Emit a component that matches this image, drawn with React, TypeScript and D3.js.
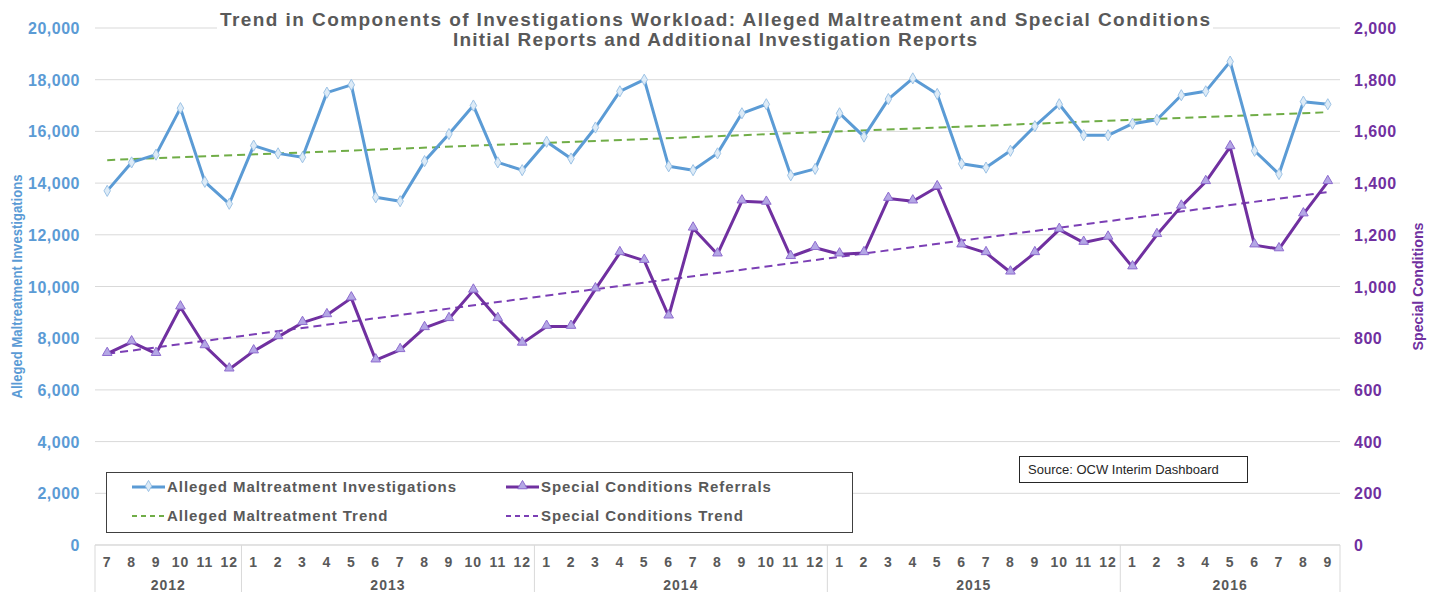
import React, { useEffect, useRef } from "react";
import * as d3 from "d3";

// month ticks (Jul 2012 .. Sep 2016)
const monthLabels = [
  "7", "8", "9", "10", "11", "12",
  "1", "2", "3", "4", "5", "6", "7", "8", "9", "10", "11", "12",
  "1", "2", "3", "4", "5", "6", "7", "8", "9", "10", "11", "12",
  "1", "2", "3", "4", "5", "6", "7", "8", "9", "10", "11", "12",
  "1", "2", "3", "4", "5", "6", "7", "8", "9",
];
const yearLabels = ["2012", "2013", "2014", "2015", "2016"];
const monthsPerYear = [6, 12, 12, 12, 9];

const alleged = [
  13700, 14800, 15100, 16900, 14050, 13200, 15450, 15150, 15000, 17500, 17800,
  13450, 13300, 14850, 15900, 17000, 14800, 14500, 15600, 14950, 16150, 17550,
  18000, 14650, 14500, 15150, 16700, 17050, 14300, 14550, 16700, 15800, 17250,
  18050, 17450, 14750, 14600, 15250, 16200, 17050, 15850, 15850, 16300, 16450,
  17400, 17550, 18700, 15250, 14350, 17150, 17050,
];
const special = [
  740, 785, 740, 920, 770, 680, 750, 805, 860, 890, 955, 715, 755, 840, 875, 985,
  875, 780, 845, 845, 990, 1130, 1100, 885, 1225, 1125, 1330, 1325, 1115, 1150,
  1125, 1130, 1340, 1330, 1385, 1160, 1130, 1055, 1130, 1220, 1170, 1190, 1075,
  1200, 1310, 1405, 1540, 1160, 1145, 1280, 1405,
];

const leftTicks = d3.range(0, 20001, 2000);
const rightTicks = d3.range(0, 2001, 200);

const BLUE = "#5B9BD5";
const PURPLE = "#7030A0";
const GREEN = "#70AD47";
const PURPLE_TREND = "#7B3FB5";
const TEXT = "#595959";
const GRID = "#D9D9D9";
const FONT = "'Liberation Sans', Arial, sans-serif";

// least squares fit over month index, like Excel's linear trendline
function linearFit(values: number[]) {
  const n = values.length;
  const mx = (n - 1) / 2;
  const my = d3.mean(values) as number;
  let num = 0;
  let den = 0;
  values.forEach((v, i) => {
    num += (i - mx) * (v - my);
    den += (i - mx) * (i - mx);
  });
  const slope = num / den;
  return (i: number) => my + slope * (i - mx);
}

const W = 1439;
const H = 592;
const margin = { left: 95, right: 99, top: 28, bottom: 47 };

const App = () => {
  const svgRef = useRef<SVGSVGElement>(null);

  useEffect(() => {
    const svg = d3.select(svgRef.current);
    svg.selectAll("*").remove();

    const x0 = margin.left;
    const x1 = W - margin.right;
    const y0 = H - margin.bottom;
    const y1 = margin.top;

    const idx = d3.range(monthLabels.length);
    const x = d3.scaleBand<number>().domain(idx).range([x0, x1]).padding(0);
    const cx = (i: number) => (x(i) as number) + x.bandwidth() / 2;
    const yL = d3.scaleLinear().domain([0, 20000]).range([y0, y1]);
    const yR = d3.scaleLinear().domain([0, 2000]).range([y0, y1]);
    const fmt = d3.format(",");

    // gridlines
    svg.append("g")
      .selectAll("line")
      .data(leftTicks)
      .join("line")
      .attr("x1", x0)
      .attr("x2", x1)
      .attr("y1", (d) => yL(d))
      .attr("y2", (d) => yL(d))
      .attr("stroke", GRID)
      .attr("stroke-width", 1);

    // left ticks
    svg.append("g")
      .selectAll("text")
      .data(leftTicks)
      .join("text")
      .attr("x", 80)
      .attr("y", (d) => yL(d) + 6)
      .attr("text-anchor", "end")
      .attr("fill", BLUE)
      .attr("font-size", 16)
      .attr("letter-spacing", 0.5)
      .attr("font-weight", "bold")
      .attr("font-family", FONT)
      .text((d) => fmt(d));

    // right ticks
    svg.append("g")
      .selectAll("text")
      .data(rightTicks)
      .join("text")
      .attr("x", 1354)
      .attr("y", (d) => yR(d) + 6)
      .attr("fill", PURPLE)
      .attr("font-size", 16)
      .attr("letter-spacing", 0.5)
      .attr("font-weight", "bold")
      .attr("font-family", FONT)
      .text((d) => fmt(d));

    // axis titles
    svg.append("text")
      .attr("transform", `translate(22, ${(y0 + y1) / 2}) rotate(-90)`)
      .attr("text-anchor", "middle")
      .attr("fill", BLUE)
      .attr("font-size", 15)
      .attr("font-weight", "bold")
      .attr("font-family", FONT)
      .attr("textLength", 224)
      .attr("lengthAdjust", "spacingAndGlyphs")
      .text("Alleged Maltreatment Investigations");
    svg.append("text")
      .attr("transform", `translate(1423, ${(y0 + y1) / 2}) rotate(-90)`)
      .attr("text-anchor", "middle")
      .attr("fill", PURPLE)
      .attr("font-size", 15)
      .attr("font-weight", "bold")
      .attr("font-family", FONT)
      .attr("textLength", 128)
      .attr("lengthAdjust", "spacingAndGlyphs")
      .text("Special Conditions");

    // category axis frame
    const ax = svg.append("g");
    ax.append("line")
      .attr("x1", x0).attr("x2", x1).attr("y1", y0).attr("y2", y0)
      .attr("stroke", GRID);
    const starts = d3.cumsum([0, ...monthsPerYear]);
    ax.selectAll(".sep")
      .data(Array.from(starts))
      .join("line")
      .attr("x1", (d) => (d < idx.length ? (x(d) as number) : x1))
      .attr("x2", (d) => (d < idx.length ? (x(d) as number) : x1))
      .attr("y1", y0)
      .attr("y2", H)
      .attr("stroke", GRID);
    ax.selectAll(".month")
      .data(monthLabels)
      .join("text")
      .attr("x", (_, i) => cx(i))
      .attr("y", 567)
      .attr("text-anchor", "middle")
      .attr("fill", TEXT)
      .attr("font-size", 14)
      .attr("letter-spacing", 1)
      .attr("font-weight", "bold")
      .attr("font-family", FONT)
      .text((d) => d);
    ax.selectAll(".year")
      .data(yearLabels)
      .join("text")
      .attr("x", (_, i) => {
        const a = x(starts[i]) as number;
        const b = starts[i + 1] < idx.length ? (x(starts[i + 1]) as number) : x1;
        return (a + b) / 2;
      })
      .attr("y", 590)
      .attr("text-anchor", "middle")
      .attr("fill", TEXT)
      .attr("font-size", 14)
      .attr("letter-spacing", 1)
      .attr("font-weight", "bold")
      .attr("font-family", FONT)
      .text((d) => d);

    // trend lines
    const fitA = linearFit(alleged);
    const fitS = linearFit(special);
    const trend = (fit: (i: number) => number, y: d3.ScaleLinear<number, number>) =>
      d3.line<number>().x((i) => cx(i)).y((i) => y(fit(i)))([0, idx.length - 1]);
    svg.append("path")
      .attr("d", trend(fitA, yL))
      .attr("fill", "none")
      .attr("stroke", GREEN)
      .attr("stroke-width", 2)
      .attr("stroke-dasharray", "8,5");
    svg.append("path")
      .attr("d", trend(fitS, yR))
      .attr("fill", "none")
      .attr("stroke", PURPLE_TREND)
      .attr("stroke-width", 2)
      .attr("stroke-dasharray", "8,5");

    // data lines
    const lineA = d3.line<number>().x((_, i) => cx(i)).y((d) => yL(d));
    const lineS = d3.line<number>().x((_, i) => cx(i)).y((d) => yR(d));
    svg.append("path")
      .attr("d", lineA(alleged))
      .attr("fill", "none")
      .attr("stroke", BLUE)
      .attr("stroke-width", 3)
      .attr("stroke-linejoin", "round");
    svg.append("path")
      .attr("d", lineS(special))
      .attr("fill", "none")
      .attr("stroke", PURPLE)
      .attr("stroke-width", 3)
      .attr("stroke-linejoin", "round");

    const diamond = d3.symbol(d3.symbolDiamond, 36)();
    const triangle = d3.symbol(d3.symbolTriangle, 40)();
    svg.append("g")
      .selectAll("path")
      .data(alleged)
      .join("path")
      .attr("d", diamond)
      .attr("transform", (d, i) => `translate(${cx(i)},${yL(d)})`)
      .attr("fill", "#DDEBF7")
      .attr("stroke", "#9DC3E6")
      .attr("stroke-width", 1);
    svg.append("g")
      .selectAll("path")
      .data(special)
      .join("path")
      .attr("d", triangle)
      .attr("transform", (d, i) => `translate(${cx(i)},${yR(d) - 1})`)
      .attr("fill", "#B4A7E5")
      .attr("stroke", "#8E6CCF")
      .attr("stroke-width", 1);

    // title
    svg.append("rect")
      .attr("x", 217).attr("y", 0).attr("width", 996).attr("height", 52)
      .attr("fill", "white");
    const title = svg.append("text")
      .attr("text-anchor", "middle")
      .attr("fill", TEXT)
      .attr("font-size", 19)
      .attr("font-weight", "bold")
      .attr("font-family", FONT);
    title.append("tspan").attr("x", 715).attr("y", 26)
      .attr("textLength", 990)
      .attr("lengthAdjust", "spacing")
      .text("Trend in Components of Investigations Workload: Alleged Maltreatment and Special Conditions");
    title.append("tspan").attr("x", 715).attr("y", 46)
      .attr("textLength", 524)
      .attr("lengthAdjust", "spacing")
      .text("Initial Reports and Additional Investigation Reports");

    // legend
    const lg = svg.append("g");
    lg.append("rect")
      .attr("x", 106.5).attr("y", 472.5).attr("width", 746).attr("height", 60)
      .attr("fill", "white")
      .attr("stroke", "#404040")
      .attr("stroke-width", 1);
    const items = [
      { label: "Alleged Maltreatment Investigations", color: BLUE, dash: null, mark: diamond, mf: "#DDEBF7", ms: "#9DC3E6", lx: 132, ly: 487 },
      { label: "Special Conditions Referrals", color: PURPLE, dash: null, mark: triangle, mf: "#B4A7E5", ms: "#8E6CCF", lx: 506, ly: 487 },
      { label: "Alleged Maltreatment Trend", color: GREEN, dash: "5,4", mark: null, mf: "", ms: "", lx: 132, ly: 516 },
      { label: "Special Conditions Trend", color: PURPLE_TREND, dash: "5,4", mark: null, mf: "", ms: "", lx: 506, ly: 516 },
    ];
    items.forEach((it) => {
      lg.append("line")
        .attr("x1", it.lx).attr("x2", it.lx + 33)
        .attr("y1", it.ly).attr("y2", it.ly)
        .attr("stroke", it.color)
        .attr("stroke-width", it.dash ? 2 : 3)
        .attr("stroke-dasharray", it.dash);
      if (it.mark) {
        lg.append("path")
          .attr("d", it.mark)
          .attr("transform", `translate(${it.lx + 16.5},${it.ly - 1})`)
          .attr("fill", it.mf)
          .attr("stroke", it.ms);
      }
      lg.append("text")
        .attr("x", it.lx + 35)
        .attr("y", it.ly + 5)
        .attr("fill", TEXT)
        .attr("font-size", 15)
        .attr("letter-spacing", 0.95)
        .attr("font-weight", "bold")
        .attr("font-family", FONT)
        .text(it.label);
    });

    // source note
    svg.append("rect")
      .attr("x", 1019.5).attr("y", 456.5).attr("width", 228).attr("height", 26)
      .attr("fill", "white")
      .attr("stroke", "#262626");
    svg.append("text")
      .attr("x", 1028)
      .attr("y", 474)
      .attr("fill", "#262626")
      .attr("font-size", 13)
      .attr("font-family", FONT)
      .text("Source: OCW Interim Dashboard");
  }, []);

  return (
    <svg
      ref={svgRef}
      width={W}
      height={H}
      style={{ position: "absolute", left: 0, top: 0, display: "block", background: "white" }}
    />
  );
};

export default App;
